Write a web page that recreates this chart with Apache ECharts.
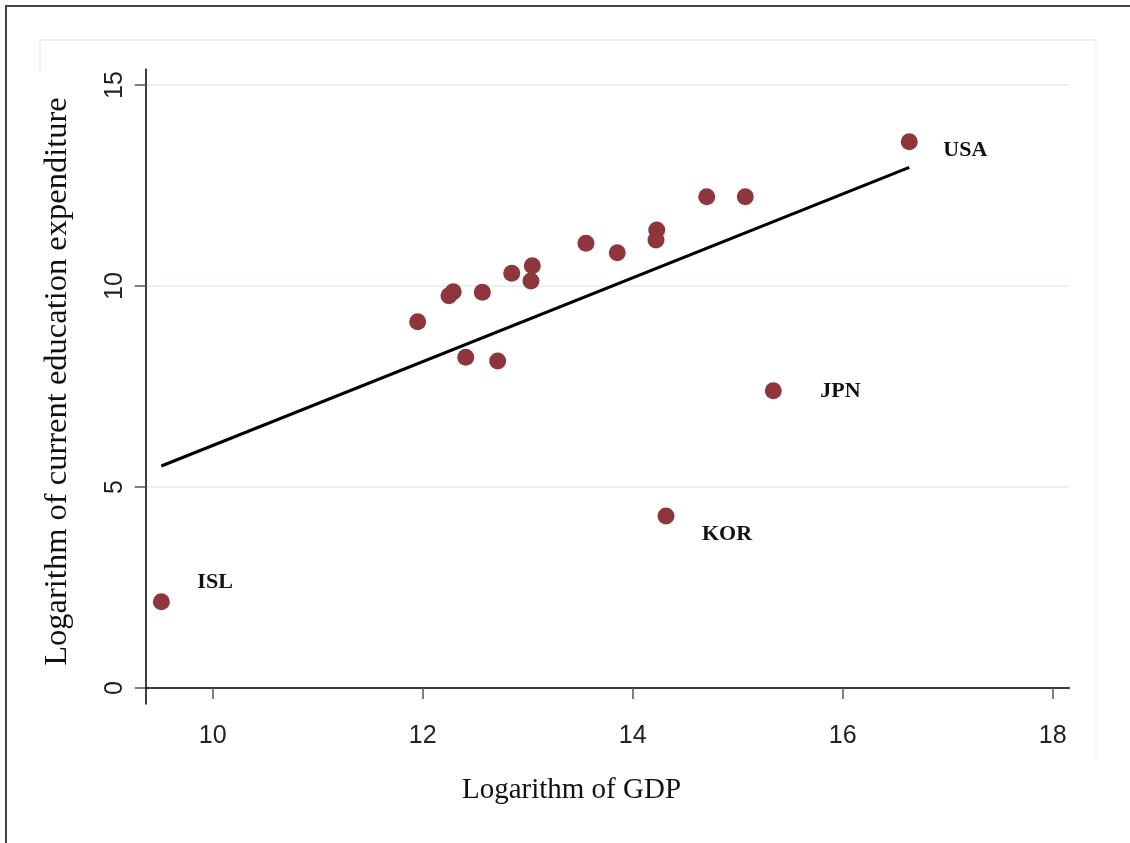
<!DOCTYPE html>
<html>
<head>
<meta charset="utf-8">
<script src="https://cdn.jsdelivr.net/npm/echarts@6/dist/echarts.min.js"></script>
<style>html,body{margin:0;padding:0;background:#fff}#c{width:1130px;height:843px}</style>
</head>
<body>
<div id="c"></div>
<script>
// Data
const gdpLog = [9.511, 11.952, 12.250, 12.291, 12.568, 12.848, 13.044, 13.031, 13.555, 13.853, 14.229, 14.222, 12.410, 12.714, 14.705, 15.072, 16.634, 15.339, 14.317];
const eduLog = [2.147, 9.112, 9.759, 9.858, 9.843, 10.316, 10.505, 10.124, 11.062, 10.828, 11.393, 11.144, 8.226, 8.134, 12.221, 12.221, 13.590, 7.396, 4.279];
const countryLabels = ['ISL', '', '', '', '', '', '', '', '', '', '', '', '', '', '', '', 'USA', 'JPN', 'KOR'];
const fitX = [9.511, 16.634];
const fitY = [5.522, 12.953];
const xTicks = [10, 12, 14, 16, 18];
const yTicks = [0, 5, 10, 15];

// Label offsets (styling only)
const labelOffsets = { ISL: [36, -19], USA: [34, 9], JPN: [47, 1], KOR: [36, 18] };

const scatterData = gdpLog.map((x, i) => {
  const name = countryLabels[i];
  const item = { value: [x, eduLog[i]], name: name };
  if (name) {
    item.label = { show: true, offset: labelOffsets[name] };
  }
  return item;
});

const chart = echarts.init(document.getElementById('c'), null, { renderer: 'canvas' });
chart.setOption({
  backgroundColor: '#ffffff',
  animation: false,
  grid: { left: 145.7, right: 60.7, top: 69.3, bottom: 139 },
  xAxis: {
    type: 'value',
    min: 9.362,
    max: 18.158,
    axisLine: { show: true, lineStyle: { color: '#000', width: 1.5 } },
    axisTick: { show: true, customValues: xTicks, length: 11, lineStyle: { color: '#555', width: 1.5 } },
    axisLabel: { customValues: xTicks, margin: 20, fontFamily: 'Liberation Sans', fontSize: 25, color: '#222' },
    splitLine: { show: false }
  },
  yAxis: {
    type: 'value',
    min: -0.398,
    max: 15.39,
    axisLine: { show: true, lineStyle: { color: '#000', width: 1.5 } },
    axisTick: { show: true, customValues: yTicks, length: 11, lineStyle: { color: '#555', width: 1.5 } },
    axisLabel: { customValues: yTicks, rotate: 90, margin: 18, fontFamily: 'Liberation Sans', fontSize: 25, color: '#222' },
    splitLine: { show: true, lineStyle: { color: '#eaf1f3', width: 2 } }
  },
  graphic: [
    { type: 'rect', silent: true, z: -10, shape: { x: 6, y: 6, width: 1200, height: 1000 }, style: { fill: 'none', stroke: '#444', lineWidth: 2 } },
    { type: 'line', silent: true, z: -10, shape: { x1: 40, y1: 40, x2: 1096, y2: 40 }, style: { stroke: '#e6eeee', lineWidth: 1.5 } },
    { type: 'line', silent: true, z: -10, shape: { x1: 1096, y1: 40, x2: 1096, y2: 760 }, style: { stroke: '#eef3f3', lineWidth: 1.5 } },
    { type: 'line', silent: true, z: -10, shape: { x1: 40, y1: 40, x2: 40, y2: 73 }, style: { stroke: '#e6eeee', lineWidth: 1.5 } },
    { type: 'text', silent: true, x: 571.5, y: 790, style: { text: 'Logarithm of GDP', font: '29px "Liberation Serif"', fill: '#111', textAlign: 'center', textVerticalAlign: 'middle' } },
    { type: 'text', silent: true, x: 57.5, y: 381.5, rotation: Math.PI / 2, style: { text: 'Logarithm of current education expenditure', font: '32.5px "Liberation Serif"', fill: '#111', textAlign: 'center', textVerticalAlign: 'middle' } }
  ],
  series: [
    {
      type: 'line',
      data: fitX.map((x, i) => [x, fitY[i]]),
      symbol: 'none',
      lineStyle: { color: '#000', width: 3 },
      z: 2
    },
    {
      type: 'scatter',
      data: scatterData,
      symbol: 'circle',
      symbolSize: 17,
      itemStyle: { color: '#8f363d', opacity: 1 },
      label: {
        show: false,
        position: 'inside',
        align: 'left',
        verticalAlign: 'middle',
        formatter: '{b}',
        fontFamily: 'Liberation Serif',
        fontWeight: 'bold',
        fontSize: 22,
        color: '#111'
      },
      z: 3
    }
  ]
});
</script>
</body>
</html>
